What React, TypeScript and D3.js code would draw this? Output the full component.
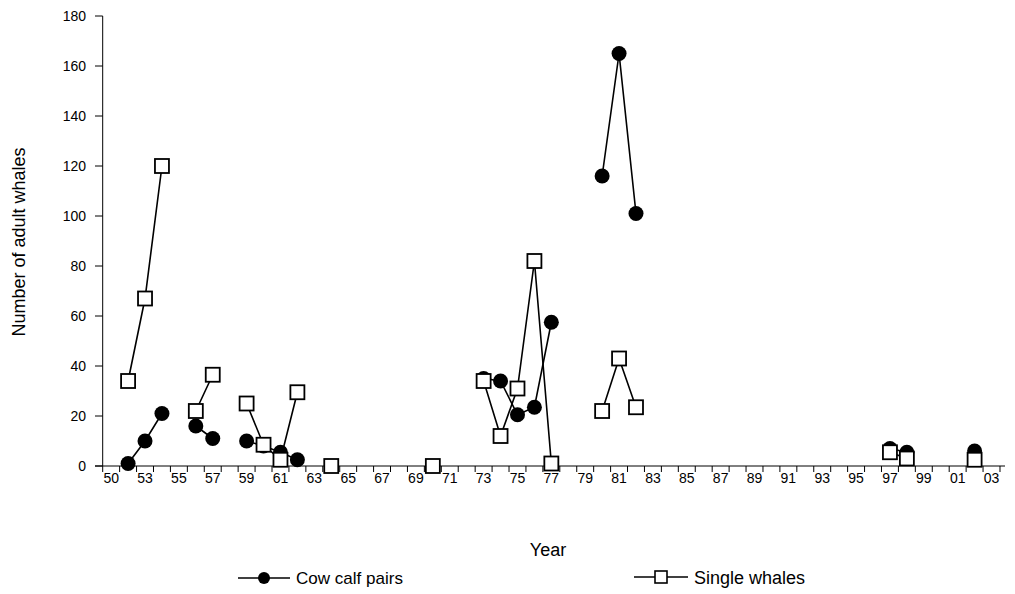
import React from "react";
import * as d3 from "d3";

// Season labels on the category axis (two-digit years)
const years: string[] = ["50"];
for (let y = 52; y <= 103; y++) years.push(String(y % 100).padStart(2, "0"));

// Counts per season; null = no survey
const cowCalf: (number | null)[] = new Array(years.length).fill(null);
const single: (number | null)[] = new Array(years.length).fill(null);

const cowCalfObs: [string, number][] = [
  ["52", 1], ["53", 10], ["54", 21],
  ["56", 16], ["57", 11],
  ["59", 10], ["60", 8], ["61", 5.5], ["62", 2.5],
  ["73", 35], ["74", 34], ["75", 20.5], ["76", 23.5], ["77", 57.5],
  ["80", 116], ["81", 165], ["82", 101],
  ["97", 7], ["98", 5.5],
  ["02", 6],
];
const singleObs: [string, number][] = [
  ["52", 34], ["53", 67], ["54", 120],
  ["56", 22], ["57", 36.5],
  ["59", 25], ["60", 8.5], ["61", 2.5], ["62", 29.5],
  ["64", 0], ["70", 0],
  ["73", 34], ["74", 12], ["75", 31], ["76", 82], ["77", 1],
  ["80", 22], ["81", 43], ["82", 23.5],
  ["97", 5.5], ["98", 3],
  ["02", 2.5],
];
cowCalfObs.forEach(([y, v]) => (cowCalf[years.indexOf(y)] = v));
singleObs.forEach(([y, v]) => (single[years.indexOf(y)] = v));

const yTicks = [0, 20, 40, 60, 80, 100, 120, 140, 160, 180];

const W = 1015;
const H = 594;
const left = 102.7;
const right = 1005;
const top = 16;
const bottom = 466;

export default function App() {
  const x = d3.scaleBand<number>().domain(d3.range(years.length)).range([left, left + 16.93 * years.length]);
  const y = d3.scaleLinear().domain([0, 180]).range([bottom, top]);
  const cx = (i: number) => (x(i) as number) + x.bandwidth() / 2;

  const line = d3
    .line<number | null>()
    .defined((d) => d !== null)
    .x((_, i) => cx(i))
    .y((d) => y(d as number));

  const font = "'Liberation Sans', Arial, sans-serif";

  return (
    <svg width={W} height={H} style={{ position: "absolute", left: 0, top: 0, background: "#fff" }}>
      {/* y axis */}
      <line x1={left} x2={left} y1={top} y2={bottom} stroke="#000" strokeWidth={1} />
      {yTicks.map((t) => (
        <g key={t}>
          <line x1={95} x2={left} y1={y(t)} y2={y(t)} stroke="#000" />
          <text x={86} y={y(t)} dy="0.35em" textAnchor="end" fontFamily={font} fontSize={14}>
            {t}
          </text>
        </g>
      ))}
      {/* x axis */}
      <line x1={95} x2={right} y1={bottom} y2={bottom} stroke="#000" />
      {d3.range(years.length + 1).map((i) => {
        const xx = left + x.step() * i;
        return <line key={i} x1={xx} x2={xx} y1={bottom} y2={bottom + 6} stroke="#000" />;
      })}
      {years.map((lab, i) =>
        i % 2 === 0 ? (
          <text key={lab + i} x={cx(i)} y={483} textAnchor="middle" fontFamily={font} fontSize={14}>
            {lab}
          </text>
        ) : null
      )}

      {/* axis titles */}
      <text x={548} y={556} textAnchor="middle" fontFamily={font} fontSize={18}>
        Year
      </text>
      <text
        transform={`translate(25,242) rotate(-90)`}
        textAnchor="middle"
        fontFamily={font}
        fontSize={18}
      >
        Number of adult whales
      </text>

      {/* cow calf pairs */}
      <path d={line(cowCalf) || ""} fill="none" stroke="#000" strokeWidth={1.6} />
      {cowCalf.map((v, i) =>
        v === null ? null : <circle key={"c" + i} cx={cx(i)} cy={y(v)} r={7.5} fill="#000" />
      )}

      {/* single whales */}
      <path d={line(single) || ""} fill="none" stroke="#000" strokeWidth={1.6} />
      {single.map((v, i) =>
        v === null ? null : (
          <rect
            key={"s" + i}
            x={cx(i) - 7}
            y={y(v) - 7}
            width={14}
            height={14}
            fill="#fff"
            stroke="#000"
            strokeWidth={1.8}
          />
        )
      )}

      {/* legend */}
      <line x1={238} x2={290} y1={578} y2={578} stroke="#000" strokeWidth={1.6} />
      <circle cx={264} cy={578} r={6} fill="#000" />
      <text x={296} y={584} fontFamily={font} fontSize={17} textLength={107} lengthAdjust="spacingAndGlyphs">
        Cow calf pairs
      </text>
      <line x1={634} x2={688} y1={577} y2={577} stroke="#000" strokeWidth={1.6} />
      <rect x={655} y={571} width={12} height={12} fill="#fff" stroke="#000" strokeWidth={1.6} />
      <text x={694} y={584} fontFamily={font} fontSize={18}>
        Single whales
      </text>
    </svg>
  );
}
